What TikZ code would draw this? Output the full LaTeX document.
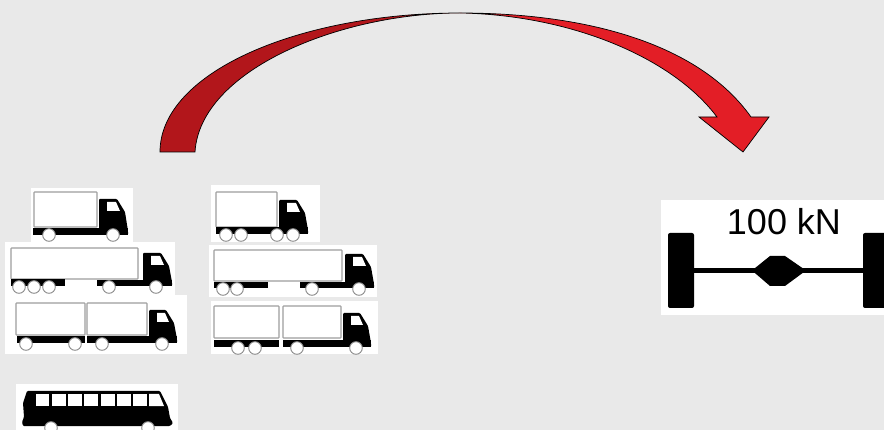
\documentclass[tikz,border=0pt]{standalone}
\usepackage{fontspec}
\setmainfont{Liberation Sans}
\definecolor{bg}{HTML}{E9E9E9}
\definecolor{redA}{HTML}{B2161B}
\definecolor{redB}{HTML}{E31E26}
\tikzset{
  panel/.style={fill=white,draw=none},
  cargo/.style={fill=white,draw=black!38,line width=1.1pt,rounded corners=0.6pt},
  black part/.style={fill=black,draw=none},
  tyre/.style={fill=white,draw=black!45,line width=0.9pt},
  label text/.style={font=\fontsize{36}{36}\selectfont,inner sep=0pt,text=black}
}
% cab: left, right, top, bottom
\newcommand{\truckcab}[4]{%
  \fill[black part,rounded corners=1pt] (#1,#3) -- ({#2-11},#3) -- ({#2-3},{#3+13}) -- (#2,{#4-4}) -- (#2,#4) -- (#1,#4) -- cycle;
  \fill[white] ({#1+8},{#3+3}) -- ({#2-12},{#3+3}) -- ({#2-8},{#3+12}) -- ({#1+8},{#3+12}) -- cycle;
}
\newcommand{\tyres}[2]{\foreach \wx in {#2} {\draw[tyre] (\wx,#1) circle (6.3);}}
\begin{document}
\begin{tikzpicture}[x=1pt,y=-1pt]
\useasboundingbox (0,0) rectangle (884,430);
\fill[bg] (0,0) rectangle (884,430);
% arrow: dark left half, bright right half, one outline
\fill[redA] (160,152) .. controls (160,72) and (300,13) .. (460,13)
  .. controls (340,13) and (200,70) .. (195,152) -- cycle;
\fill[redB] (460,13) .. controls (590,13) and (700,45) .. (751,117)
  -- (769,117) -- (743,152) -- (699,117) -- (717,117)
  .. controls (672,57) and (570,15) .. (460,13) -- cycle;
\draw[black,line width=0.7pt,line join=miter]
  (160,152) .. controls (160,72) and (300,13) .. (460,13)
  .. controls (590,13) and (700,45) .. (751,117)
  -- (769,117) -- (743,152) -- (699,117) -- (717,117)
  .. controls (672,57) and (570,15) .. (460,13)
  .. controls (340,13) and (200,70) .. (195,152) -- cycle;
% panels
\fill[panel] (31,188) rectangle (133,242);
\fill[panel] (5,242) rectangle (175,295);
\fill[panel] (5,295) rectangle (187,354);
\fill[panel] (16,384) rectangle (178,430);
\fill[panel] (211,185) rectangle (320,242);
\fill[panel] (209,245) rectangle (377,297);
\fill[panel] (211,301) rectangle (378,354);
\fill[panel] (661,200) rectangle (884,315);
% truck 1
\draw[cargo] (34,192) rectangle (97,227);
\fill[black part] (33,228) rectangle (128,235);
\truckcab{99}{128}{199}{235}
\tyres{235}{49,113}
% truck 2
\draw[cargo] (11,248) rectangle (138,279);
\fill[black part] (11,279.5) rectangle (65,286);
\fill[black part] (97,280) rectangle (172,286);
\truckcab{143}{172}{253}{286}
\tyres{287}{19,34,49,109,156}
% truck 3
\draw[cargo] (16,303) rectangle (85,335);
\draw[cargo] (87,303) rectangle (147,335);
\fill[black part] (17,336) rectangle (85,343);
\fill[black part] (87,336) rectangle (177,343);
\truckcab{149}{177}{310}{343}
\tyres{344}{26,75,102,162}
% bus
\fill[black part,rounded corners=1pt] (27,391) -- (160,391) -- (168,407) -- (170,418) -- (173,423) -- (170,426) -- (23,426) -- (22,422) -- (24,417) -- (23,403) -- cycle;
\foreach \a/\b in {36/49,52/66,68/82,84/98,101/115,117/131,133/147} {\fill[white] (\a,394) rectangle (\b,406);}
\fill[white] (149,394) -- (159,394) -- (164,406) -- (149,406) -- cycle;
\begin{scope}
\clip (16,384) rectangle (178,430);
\tyres{428}{51,148}
\end{scope}
% truck 4
\draw[cargo] (216,192) rectangle (277,227);
\fill[black part] (216,227.5) rectangle (308,234);
\truckcab{279}{308}{200}{234}
\tyres{235}{226,241,277,293}
% truck 5
\draw[cargo] (214,250) rectangle (342,281);
\fill[black part] (214,282) rectangle (268,288);
\fill[black part] (300,282) rectangle (374,288);
\truckcab{345}{374}{254}{288}
\tyres{289}{223,237,312,359}
% truck 6
\draw[cargo] (214,306) rectangle (279,338);
\draw[cargo] (283,306) rectangle (341,338);
\fill[black part] (214,340) rectangle (279,347);
\fill[black part] (283,340) rectangle (371,347);
\truckcab{343}{371}{313}{347}
\tyres{348}{238,255,297,356}
% axle
\fill[black part,rounded corners=2pt] (668,233) rectangle (694,308);
\begin{scope}
\clip (661,200) rectangle (884,315);
\fill[black part,rounded corners=2pt] (863,233) rectangle (892,308);
\end{scope}
\fill[black part] (694,268) rectangle (863,273);
\fill[black part] (752,270.5) -- (770,256) -- (785,256) -- (806,270.5) -- (785,286) -- (770,286) -- cycle;
\node[label text] (load) at (784,222) {100 kN};
\end{tikzpicture}
\end{document}
